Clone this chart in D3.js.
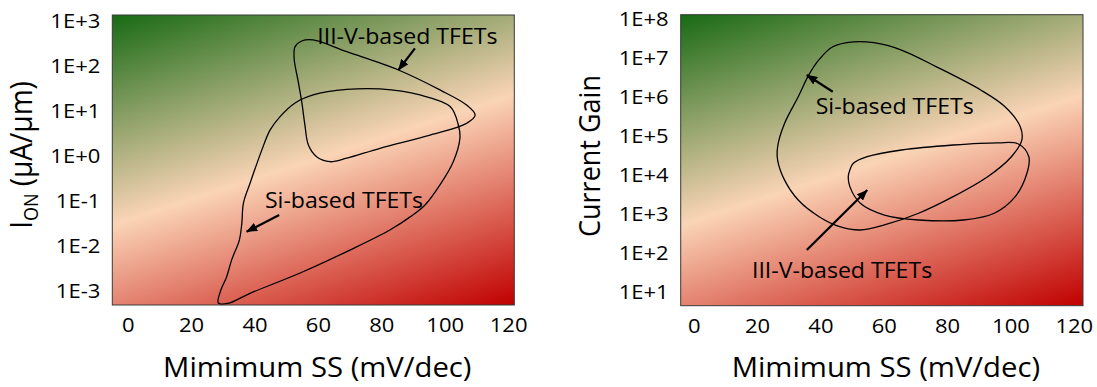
<!DOCTYPE html>
<html>
<head>
<meta charset="utf-8">
<script src="https://cdn.jsdelivr.net/npm/d3@7"></script>
<style>
  html, body { margin: 0; padding: 0; background: #fff; }
  svg { display: block; }
  text { font-family: "Open Sans", "Noto Sans", sans-serif; fill: #000; }
</style>
</head>
<body>
<svg id="chart" width="1097" height="387"></svg>
<script>
// ---- axis ticks ----
const ssTicks = [0, 20, 40, 60, 80, 100, 120];
const ionTicks = [1e-3, 1e-2, 1e-1, 1e0, 1e1, 1e2, 1e3];
const ionTickLabels = ["1E-3", "1E-2", "1E-1", "1E+0", "1E+1", "1E+2", "1E+3"];
const gainTicks = [1e1, 1e2, 1e3, 1e4, 1e5, 1e6, 1e7, 1e8];
const gainTickLabels = ["1E+1", "1E+2", "1E+3", "1E+4", "1E+5", "1E+6", "1E+7", "1E+8"];

// ---- device envelopes: [minimum SS (mV/dec), value] ----
// ON current (uA/um)
const siIon = [
  [28.6, 5.3e-4], [29.4, 1.03e-3], [31.2, 2.0e-3], [32.8, 4.8e-3], [35.2, 1.3e-2],
  [36.0, 3.1e-2], [36.5, 8.6e-2], [38.6, 0.24], [42.3, 1.3], [44.9, 3.6],
  [48.0, 7.1], [52.8, 14.4], [58.5, 21.7], [69.1, 28.8], [79.6, 29.5],
  [92.2, 21.7], [101.7, 12.0], [104.3, 4.7], [104.8, 2.4], [102.7, 0.72],
  [98.5, 0.22], [93.8, 0.079], [89.1, 0.043], [82.7, 0.022], [70.1, 0.0079],
  [54.4, 0.00245], [38.6, 0.00087], [31.6, 0.00052]
];
const iiivIon = [
  [58.5, 361], [69.1, 198], [85.4, 77.8], [98.5, 28.1], [106.9, 13.0],
  [109.6, 7.8], [106.9, 5.1], [95.4, 2.8], [79.6, 1.43], [69.1, 0.86],
  [63.8, 0.72], [59.6, 0.93], [57.0, 1.69], [55.9, 4.7], [54.9, 15.4],
  [53.8, 42.8], [52.5, 142], [52.8, 256], [54.9, 342]
];
// current gain (ION/IOFF)
const siGain = [
  [50.4, 2.5e7], [43.9, 1.87e7], [39.5, 8.6e6], [36.3, 3.5e6], [33.0, 9.8e5],
  [28.7, 2.05e5], [26.5, 5.2e4], [26.5, 2.35e4], [28.7, 7.2e3], [33.0, 2.23e3],
  [39.6, 834], [46.1, 462], [52.6, 380], [60.2, 511], [71.0, 1020],
  [81.9, 2710], [92.8, 8800], [100.3, 28600], [103.6, 77000], [103.1, 168000],
  [98.2, 550000], [90.6, 1.46e6], [76.5, 5.8e6], [65.6, 1.54e7], [56.9, 2.37e7]
];
const iiivGain = [
  [49.3, 1.31e4], [50.4, 1.94e4], [54.8, 2.86e4], [65.6, 4.25e4], [81.9, 5.7e4],
  [96.0, 6.5e4], [102.5, 6.05e4], [105.8, 2.86e4], [105.2, 1.08e4], [101.5, 2710],
  [94.9, 1020], [85.2, 686], [71.0, 686], [60.2, 920], [52.6, 1840],
  [49.3, 4900], [48.8, 8800]
];

// ---- layout ----
const SX = 1.1;               // horizontal text stretch
const svg = d3.select("#chart");
const defs = svg.append("defs");

defs.append("marker")
  .attr("id", "arrowhead")
  .attr("markerUnits", "userSpaceOnUse")
  .attr("viewBox", "0 0 11 9")
  .attr("markerWidth", 11).attr("markerHeight", 9)
  .attr("refX", 10.5).attr("refY", 4.5)
  .attr("orient", "auto")
  .append("path").attr("d", "M0,0 L11,4.5 L0,9 Z").attr("fill", "#000");

const panels = [
  {
    id: "ion",
    left: 112.3, right: 514.3, top: 15, bottom: 305,
    xDomain: [-4.85, 121.95],
    yDomain: [Math.pow(10, -3.32), Math.pow(10, 3.11)],
    yTicks: ionTicks, yLabels: ionTickLabels,
    loops: [siIon, iiivIon],
    yTitleX: 32, yTitleY: 155,
    notes: [
      { text: "III-V-based TFETs", at: [59.8, 289], from: [90.6, 235], to: [85.4, 77.8] },
      { text: "Si-based TFETs", at: [43.3, 0.0668], from: [47.8, 0.0474], to: [37.5, 0.0202] }
    ]
  },
  {
    id: "gain",
    left: 680.7, right: 1083, top: 14.7, bottom: 305.7,
    xDomain: [-4.1, 122.9],
    yDomain: [Math.pow(10, 0.642), Math.pow(10, 8.092)],
    yTicks: gainTicks, yLabels: gainTickLabels,
    loops: [siGain, iiivGain],
    yTitleX: 600, yTitleY: 156,
    notes: [
      { text: "Si-based TFETs", at: [38.5, 3.5e5], from: [43.9, 1.32e6], to: [35.7, 3.53e6] },
      { text: "III-V-based TFETs", at: [18.4, 22.9], from: [35.7, 117], to: [54.8, 4.0e3] }
    ]
  }
];

function stretchText(sel) {
  sel.each(function () {
    const t = d3.select(this);
    const tx = +t.attr("x") || 0, ty = +t.attr("y") || 0;
    t.attr("x", null).attr("y", null)
     .attr("transform", `translate(${tx},${ty}) scale(${SX},1)`);
  });
}

panels.forEach(p => {
  const g = svg.append("g").attr("class", "panel-" + p.id);
  const x = d3.scaleLinear().domain(p.xDomain).range([p.left, p.right]);
  const y = d3.scaleLog().domain(p.yDomain).range([p.bottom, p.top]);
  const w = p.right - p.left, h = p.bottom - p.top;

  // diagonal green -> peach -> red background
  const dir = [0.308, 0.951];
  const half = (w * dir[0] + h * dir[1]) / 2;
  const cx = p.left + w / 2, cy = p.top + h / 2;
  const grad = defs.append("linearGradient")
    .attr("id", "bg-" + p.id)
    .attr("gradientUnits", "userSpaceOnUse")
    .attr("x1", cx - dir[0] * half).attr("y1", cy - dir[1] * half)
    .attr("x2", cx + dir[0] * half).attr("y2", cy + dir[1] * half);
  [[0, "#186a14"], [0.5, "#fad4b6"], [1, "#c00000"]].forEach(s =>
    grad.append("stop").attr("offset", s[0]).attr("stop-color", s[1]));

  defs.append("clipPath").attr("id", "clip-" + p.id)
    .append("rect").attr("x", p.left).attr("y", p.top).attr("width", w).attr("height", h);

  g.append("rect")
    .attr("x", p.left).attr("y", p.top).attr("width", w).attr("height", h)
    .attr("fill", `url(#bg-${p.id})`);

  // envelopes
  const line = d3.line()
    .x(d => x(d[0])).y(d => y(d[1]))
    .curve(d3.curveCatmullRomClosed.alpha(0.5));
  const loopG = g.append("g").attr("clip-path", `url(#clip-${p.id})`);
  p.loops.forEach(loop => {
    loopG.append("path").attr("d", line(loop))
      .attr("fill", "none").attr("stroke", "#000").attr("stroke-width", 1.3);
  });

  // frame
  g.append("rect")
    .attr("x", p.left).attr("y", p.top).attr("width", w).attr("height", h)
    .attr("fill", "none").attr("stroke", "#3a3a3a").attr("stroke-width", 1);

  // axes
  const xAxis = d3.axisBottom(x).tickValues(ssTicks).tickSize(0).tickPadding(13)
    .tickFormat(d3.format("d"));
  const xg = g.append("g").attr("transform", `translate(0,${p.bottom})`).call(xAxis);
  xg.select(".domain").remove();
  xg.attr("font-size", 20).attr("font-family", null);
  xg.selectAll(".tick text").attr("fill", "#000");
  stretchText(xg.selectAll(".tick text"));

  const yAxis = d3.axisLeft(y).tickValues(p.yTicks).tickSize(0).tickPadding(12)
    .tickFormat(d => p.yLabels[p.yTicks.indexOf(d)]);
  const yg = g.append("g").attr("transform", `translate(${p.left},0)`).call(yAxis);
  yg.select(".domain").remove();
  yg.attr("font-size", 20).attr("font-family", null);
  yg.selectAll(".tick text").attr("fill", "#000").attr("dy", "0.36em");
  stretchText(yg.selectAll(".tick text"));

  // x title
  g.append("text")
    .attr("text-anchor", "middle").attr("font-size", 26.6)
    .attr("transform", `translate(${(p.left + p.right) / 2 + 4},377.3) scale(${SX},1)`)
    .text("Mimimum SS (mV/dec)");

  // y title
  const yt = g.append("text")
    .attr("text-anchor", "middle").attr("font-size", 27)
    .attr("transform", `translate(${p.yTitleX},${p.yTitleY}) rotate(-90) scale(1,1.08)`);
  if (p.id === "ion") {
    yt.attr("font-size", 28);
    yt.append("tspan").text("I");
    yt.append("tspan").attr("font-size", 18).attr("dy", 6).text("ON");
    yt.append("tspan").attr("dy", -6).text(" (\u00B5A/\u00B5m)");
  } else {
    yt.text("Current Gain");
  }

  // annotations
  p.notes.forEach(n => {
    g.append("line")
      .attr("x1", x(n.from[0])).attr("y1", y(n.from[1]))
      .attr("x2", x(n.to[0])).attr("y2", y(n.to[1]))
      .attr("stroke", "#000").attr("stroke-width", 2.2)
      .attr("marker-end", "url(#arrowhead)");
    g.append("text")
      .attr("font-size", 21)
      .attr("transform", `translate(${x(n.at[0])},${y(n.at[1])}) scale(${SX},1)`)
      .text(n.text);
  });
});
</script>
</body>
</html>
